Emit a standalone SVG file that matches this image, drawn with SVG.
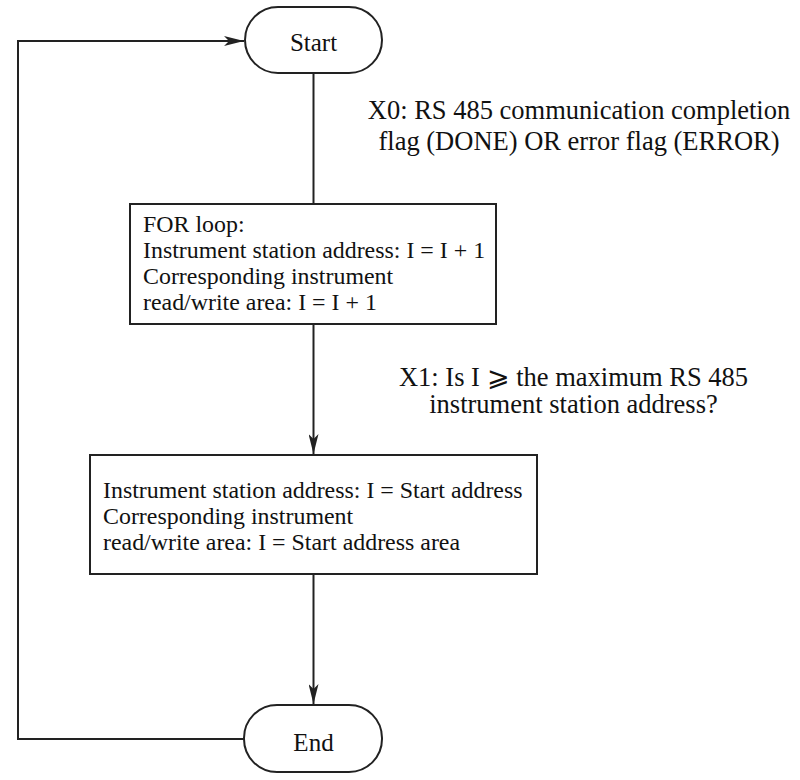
<svg xmlns="http://www.w3.org/2000/svg" width="800" height="780" viewBox="0 0 800 780">
<style>
.n{fill:#fff;stroke:#222;stroke-width:2}
.c{fill:none;stroke:#222;stroke-width:2}
text{font-family:"Liberation Serif","Times New Roman",serif;fill:#111}
.b{font-size:23.9px}
.l{font-size:26.5px;text-anchor:middle}
.t{font-size:25px;text-anchor:middle}
</style>
<defs>
<marker id="ar" viewBox="0 0 20 10" refX="20" refY="5" markerWidth="20" markerHeight="10" markerUnits="userSpaceOnUse" orient="auto">
<path d="M0,0 L20,5 L0,10 L5,5 Z" fill="#222"/>
</marker>
</defs>
<rect width="800" height="780" fill="#fff"/>
<g id="connectors">
<line class="c" x1="313.5" y1="73" x2="313.5" y2="204"/>
<line class="c" x1="313.5" y1="324" x2="313.5" y2="454" marker-end="url(#ar)"/>
<line class="c" x1="313.5" y1="574" x2="313.5" y2="704" marker-end="url(#ar)"/>
<polyline class="c" points="244,739 18,739 18,41 244,41" marker-end="url(#ar)"/>
</g>
<g id="start">
<rect class="n" x="245" y="7" width="137" height="66" rx="33" ry="33"/>
<text class="t" x="313.5" y="51">Start</text>
</g>
<g id="label-x0">
<text class="l" x="579" y="119">X0: RS 485 communication completion</text>
<text class="l" x="579" y="150">flag (DONE) OR error flag (ERROR)</text>
</g>
<g id="for-loop">
<rect class="n" x="130" y="204" width="366" height="120"/>
<text class="b" x="143" y="232">FOR loop:</text>
<text class="b" x="143" y="258">Instrument station address: I = I + 1</text>
<text class="b" x="143" y="284">Corresponding instrument</text>
<text class="b" x="143" y="310">read/write area: I = I + 1</text>
</g>
<g id="label-x1">
<text class="l" x="573.5" y="386">X1: Is I ⩾ the maximum RS 485</text>
<text class="l" x="573.5" y="413">instrument station address?</text>
</g>
<g id="reset">
<rect class="n" x="90" y="455" width="447" height="119"/>
<text class="b" x="103" y="498">Instrument station address: I = Start address</text>
<text class="b" x="103" y="524">Corresponding instrument</text>
<text class="b" x="103" y="550">read/write area: I = Start address area</text>
</g>
<g id="end">
<rect class="n" x="244" y="705" width="138" height="67" rx="33" ry="33"/>
<text class="t" x="313.5" y="751">End</text>
</g>
</svg>
